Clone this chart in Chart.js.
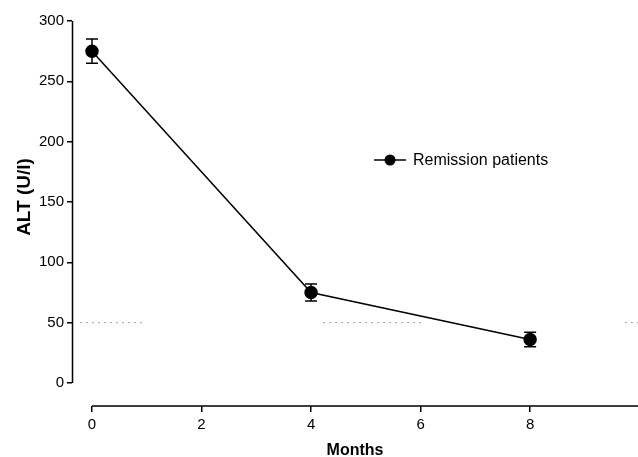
<!DOCTYPE html>
<html><head><meta charset="utf-8">
<script src="https://cdn.jsdelivr.net/npm/chart.js@4/dist/chart.umd.min.js"></script>
<style>html,body{margin:0;padding:0;background:#fff}#wrap{width:638px;height:457px}</style>
</head><body><div id="wrap"><canvas id="c" width="638" height="457"></canvas></div>
<script>
const months = [0, 4, 8];
const altMean = [275, 75, 36];
const altErr = [10, 7, 6];
const seriesName = 'Remission patients';
const yTitle = 'ALT (U/l)';
const xTitle = 'Months';
const xTicks = [0, 2, 4, 6, 8];
const yTicks = [0, 50, 100, 150, 200, 250, 300];
const refX = [-0.22, 0.93, null, 4.22, 6.05, null, 9.73, 9.97];
const refY = [50, 50, null, 50, 50, null, 50, 50];

const FONT = 'Liberation Sans, Arial, sans-serif';

const customDraw = {
  id: 'customDraw',
  afterDraw(chart) {
    const ctx = chart.ctx, xs = chart.scales.x, ys = chart.scales.y;
    ctx.save();
    ctx.strokeStyle = '#000'; ctx.lineWidth = 1.5;
    const y0 = ys.getPixelForValue(yTicks[0]), y1 = ys.getPixelForValue(yTicks[yTicks.length-1]);
    // axis lines
    ctx.beginPath();
    ctx.moveTo(xs.left + 0.5, y0);
    ctx.lineTo(xs.left + 0.5, y1);
    ctx.moveTo(xs.getPixelForValue(xTicks[0]), ys.bottom);
    ctx.lineTo(xs.right, ys.bottom);
    ctx.stroke();
    // error bars
    months.forEach((m, i) => {
      const px = xs.getPixelForValue(m);
      const top = ys.getPixelForValue(altMean[i] + altErr[i]);
      const bot = ys.getPixelForValue(altMean[i] - altErr[i]);
      ctx.beginPath();
      ctx.moveTo(px, top); ctx.lineTo(px, bot);
      ctx.moveTo(px - 6, top); ctx.lineTo(px + 6, top);
      ctx.moveTo(px - 6, bot); ctx.lineTo(px + 6, bot);
      ctx.stroke();
    });
    // legend
    const lx = xs.getPixelForValue(5.15), ly = ys.getPixelForValue(184.8);
    ctx.beginPath(); ctx.moveTo(lx, ly); ctx.lineTo(lx + 32, ly); ctx.stroke();
    ctx.beginPath(); ctx.arc(lx + 16, ly, 5.5, 0, Math.PI * 2); ctx.fillStyle = '#000'; ctx.fill();
    ctx.font = '16px ' + FONT; ctx.textBaseline = 'middle'; ctx.textAlign = 'left';
    ctx.fillText(seriesName, lx + 39, ly + 1);
    // y title, centred on the drawn y axis
    ctx.save();
    ctx.translate(25, (y0 + y1) / 2 - 5);
    ctx.rotate(-Math.PI / 2);
    ctx.font = 'bold 19px ' + FONT; ctx.textAlign = 'center'; ctx.textBaseline = 'middle';
    ctx.fillText(yTitle, 0, 0);
    ctx.restore();
    ctx.restore();
  }
};

new Chart(document.getElementById('c'), {
  type: 'scatter',
  data: {
    datasets: [
      {
        label: 'ref', data: refX.map((x, i) => x === null ? {x: null, y: null} : {x, y: refY[i]}),
        showLine: true, spanGaps: false, borderColor: '#9a9a9a', borderWidth: 1, borderDash: [2, 4],
        pointRadius: 0
      },
      {
        label: seriesName, data: months.map((m, i) => ({x: m, y: altMean[i]})),
        showLine: true, borderColor: '#000', backgroundColor: '#000', borderWidth: 1.5,
        pointRadius: 6, pointBackgroundColor: '#000', pointBorderColor: '#000'
      }
    ]
  },
  options: {
    responsive: false, animation: false,
    layout: {autoPadding: false, padding: {left: 6, top: 21, right: 0, bottom: 0}},
    plugins: {legend: {display: false}, tooltip: {enabled: false}},
    scales: {
      x: {
        type: 'linear', min: -0.365, max: 9.97,
        afterBuildTicks: s => { s.ticks = xTicks.map(v => ({value: v})); },
        afterFit: s => { s.height = 51; s.paddingRight = 0; s.paddingLeft = 0; },
        grid: {display: true, drawOnChartArea: false, tickLength: 6, color: '#000', lineWidth: 1.5},
        border: {display: false},
        ticks: {color: '#000', font: {size: 15, family: FONT}, padding: 4, maxRotation: 0},
        title: {display: true, text: xTitle, color: '#000', font: {size: 16, weight: 'bold', family: FONT}, padding: {top: 4, bottom: -3}}
      },
      y: {
        type: 'linear', min: -19.06, max: 300,
        afterBuildTicks: s => { s.ticks = yTicks.map(v => ({value: v})); },
        afterFit: s => { s.width = 66; s.paddingTop = 0; s.paddingBottom = 0; },
        grid: {display: true, drawOnChartArea: false, tickLength: 5, color: '#000', lineWidth: 1.5},
        border: {display: false},
        ticks: {color: '#000', font: {size: 15, family: FONT}, padding: 3}
      }
    }
  },
  plugins: [customDraw]
});
</script></body></html>
